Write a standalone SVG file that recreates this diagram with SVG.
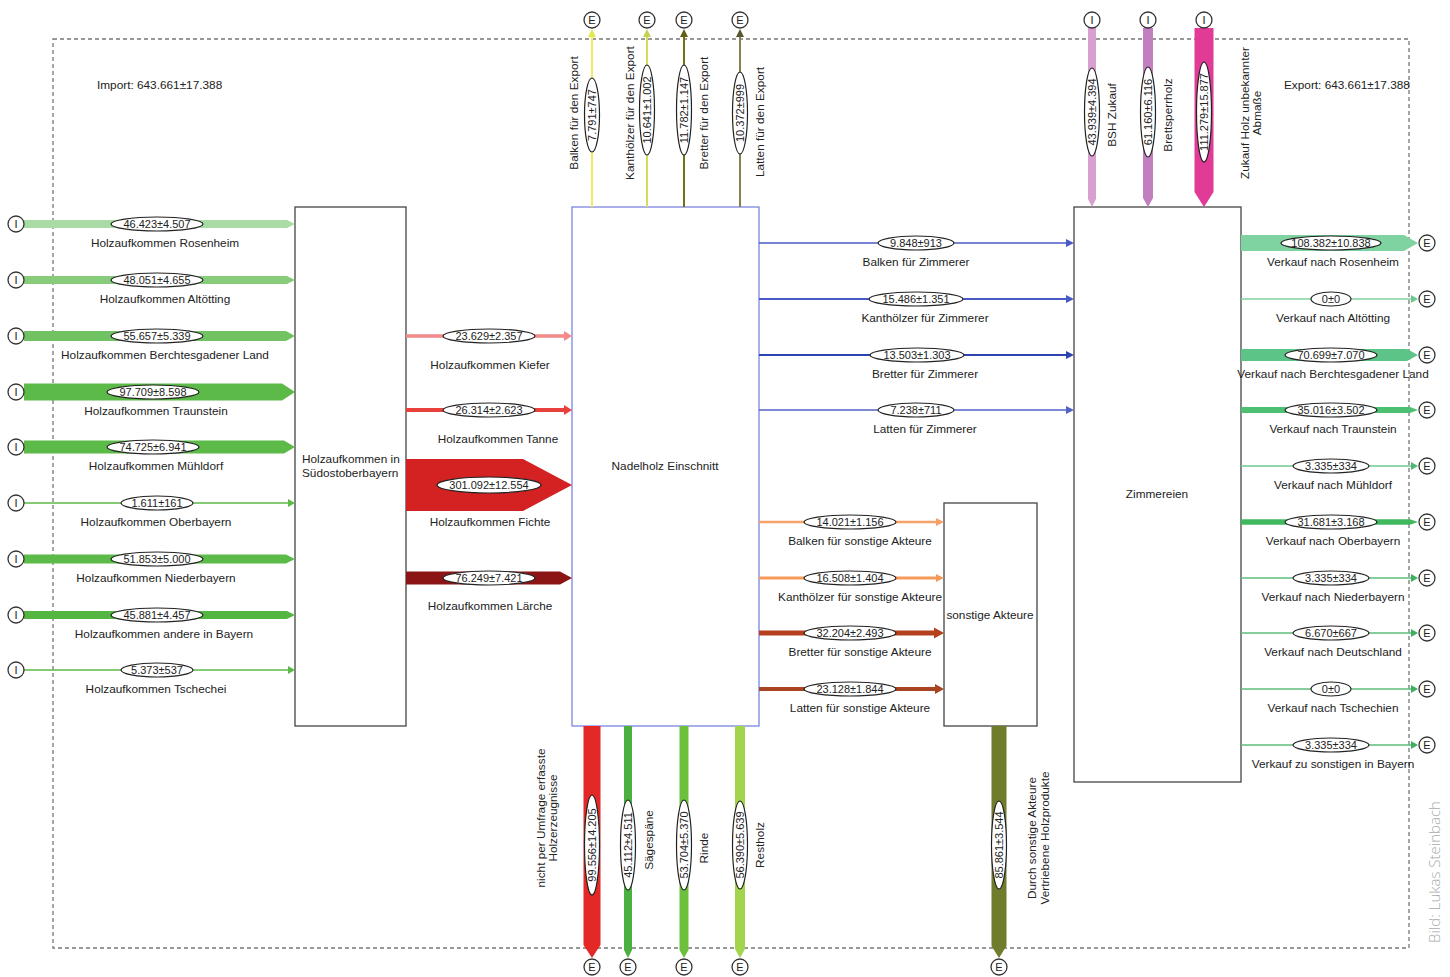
<svg xmlns="http://www.w3.org/2000/svg" width="1450" height="977" viewBox="0 0 1450 977">
<style>
text{font-family:"Liberation Sans",Arial,sans-serif;font-size:11.8px;fill:#222}
.m{text-anchor:middle}
.c{dominant-baseline:central;text-anchor:middle;font-size:11px}
.el{fill:#fff;stroke:#222;stroke-width:1.2}
.io{fill:#fff;stroke:#333;stroke-width:1.3}
.box{fill:#fff;stroke:#444;stroke-width:1.3}
.ln{fill:none}
</style>
<rect width="1450" height="977" fill="#fff"/>
<rect x="53" y="39" width="1356" height="909" fill="none" stroke="#777" stroke-width="1.3" stroke-dasharray="4 3"/>
<text x="97" y="89">Import: 643.661±17.388</text>
<text x="1284" y="89">Export: 643.661±17.388</text>

<g id="node-suedost"><rect class="box" x="295" y="207" width="111" height="519"/><text x="302" y="463">Holzaufkommen in</text><text x="302" y="477">Südostoberbayern</text></g>
<g id="node-nadelholz"><rect class="box" x="572" y="207" width="187" height="519" style="stroke:#7a86e0"/><text class="m" x="665" y="470">Nadelholz Einschnitt</text></g>
<g id="node-sonstige"><rect class="box" x="944" y="503" width="93" height="223"/><text class="m" x="990" y="619">sonstige Akteure</text></g>
<g id="node-zimmereien"><rect class="box" x="1074" y="207" width="167" height="575"/><text class="m" x="1157" y="498">Zimmereien</text></g>

<g id="connectors">
<!-- left imports -->
<polygon fill="#a8dca4" points="24,220 287,220 295,224 287,228 24,228"/>
<polygon fill="#86cc7a" points="24,276 287,276 295,280 287,284 24,284"/>
<polygon fill="#70c262" points="24,331 286,331 295,336 286,341 24,341"/>
<polygon fill="#5cba48" points="24,383.5 282,383.5 295,392 282,400.5 24,400.5"/>
<polygon fill="#5cba48" points="24,440.5 284,440.5 295,447 284,453.5 24,453.5"/>
<line x1="24" y1="503" x2="289" y2="503" stroke="#5cba48" stroke-width="1.5"/><polygon fill="#5cba48" points="288,499 295,503 288,507"/>
<polygon fill="#5cba48" points="24,554.5 286,554.5 295,559 286,563.5 24,563.5"/>
<polygon fill="#52b640" points="24,611 287,611 295,615 287,619 24,619"/>
<line x1="24" y1="670" x2="289" y2="670" stroke="#5cba48" stroke-width="1.5"/><polygon fill="#5cba48" points="288,666 295,670 288,674"/>

<g id="lbl-left">
<ellipse class="el" cx="157" cy="224" rx="46" ry="7"/><text class="c" x="157" y="224">46.423±4.507</text><text class="m" x="165" y="247">Holzaufkommen Rosenheim</text>
<ellipse class="el" cx="157" cy="280" rx="46" ry="7"/><text class="c" x="157" y="280">48.051±4.655</text><text class="m" x="165" y="303">Holzaufkommen Altötting</text>
<ellipse class="el" cx="157" cy="336" rx="46" ry="7"/><text class="c" x="157" y="336">55.657±5.339</text><text class="m" x="165" y="359">Holzaufkommen Berchtesgadener Land</text>
<ellipse class="el" cx="153" cy="392" rx="46" ry="7"/><text class="c" x="153" y="392">97.709±8.598</text><text class="m" x="156" y="415">Holzaufkommen Traunstein</text>
<ellipse class="el" cx="153" cy="447" rx="46" ry="7"/><text class="c" x="153" y="447">74.725±6.941</text><text class="m" x="156" y="470">Holzaufkommen Mühldorf</text>
<ellipse class="el" cx="157" cy="503" rx="36" ry="7"/><text class="c" x="157" y="503">1.611±161</text><text class="m" x="156" y="526">Holzaufkommen Oberbayern</text>
<ellipse class="el" cx="157" cy="559" rx="46" ry="7"/><text class="c" x="157" y="559">51.853±5.000</text><text class="m" x="156" y="582">Holzaufkommen Niederbayern</text>
<ellipse class="el" cx="157" cy="615" rx="46" ry="7"/><text class="c" x="157" y="615">45.881±4.457</text><text class="m" x="164" y="638">Holzaufkommen andere in Bayern</text>
<ellipse class="el" cx="157" cy="670" rx="36" ry="7"/><text class="c" x="157" y="670">5.373±537</text><text class="m" x="156" y="693">Holzaufkommen Tschechei</text>
</g>

<!-- middle -->
<line x1="406" y1="336" x2="565" y2="336" stroke="#f28a8a" stroke-width="3.5"/><polygon fill="#f28a8a" points="564,331 572,336 564,341"/>
<line x1="406" y1="410" x2="565" y2="410" stroke="#e8403a" stroke-width="4"/><polygon fill="#e8403a" points="564,405 572,410 564,415"/>
<polygon fill="#d42222" points="406,459 523,459 572,485 523,511 406,511"/>
<polygon fill="#8b1414" points="406,571.5 560,571.5 572,578 560,584.5 406,584.5"/>
<g id="lbl-mid">
<ellipse class="el" cx="489" cy="336" rx="46" ry="7"/><text class="c" x="489" y="336">23.629±2.357</text><text class="m" x="490" y="369">Holzaufkommen Kiefer</text>
<ellipse class="el" cx="489" cy="410" rx="46" ry="7"/><text class="c" x="489" y="410">26.314±2.623</text><text class="m" x="498" y="443">Holzaufkommen Tanne</text>
<ellipse class="el" cx="489" cy="485" rx="52" ry="8"/><text class="c" x="489" y="485">301.092±12.554</text><text class="m" x="490" y="526">Holzaufkommen Fichte</text>
<ellipse class="el" cx="489" cy="578" rx="46" ry="7"/><text class="c" x="489" y="578">76.249±7.421</text><text class="m" x="490" y="610">Holzaufkommen Lärche</text>
</g>

<!-- to Zimmereien -->
<line x1="759" y1="243" x2="1067" y2="243" stroke="#4a5ac4" stroke-width="1.5"/><polygon fill="#4a5ac4" points="1066,239 1074,243 1066,247"/>
<line x1="759" y1="299" x2="1067" y2="299" stroke="#4a5ac4" stroke-width="1.8"/><polygon fill="#4a5ac4" points="1066,295 1074,299 1066,303"/>
<line x1="759" y1="355" x2="1067" y2="355" stroke="#2c44ae" stroke-width="2.2"/><polygon fill="#2c44ae" points="1066,351 1074,355 1066,359"/>
<line x1="759" y1="410" x2="1067" y2="410" stroke="#5262c4" stroke-width="1.3"/><polygon fill="#5262c4" points="1066,406 1074,410 1066,414"/>
<g id="lbl-zim">
<ellipse class="el" cx="916" cy="243" rx="38" ry="7"/><text class="c" x="916" y="243">9.848±913</text><text class="m" x="916" y="266">Balken für Zimmerer</text>
<ellipse class="el" cx="916" cy="299" rx="47" ry="7"/><text class="c" x="916" y="299">15.486±1.351</text><text class="m" x="925" y="322">Kanthölzer für Zimmerer</text>
<ellipse class="el" cx="917" cy="355" rx="47" ry="7"/><text class="c" x="917" y="355">13.503±1.303</text><text class="m" x="925" y="378">Bretter für Zimmerer</text>
<ellipse class="el" cx="916" cy="410" rx="38" ry="7"/><text class="c" x="916" y="410">7.238±711</text><text class="m" x="925" y="433">Latten für Zimmerer</text>
</g>

<!-- to sonstige -->
<line x1="759" y1="522" x2="937" y2="522" stroke="#f6a06a" stroke-width="2.4"/><polygon fill="#f6a06a" points="936,518 944,522 936,526"/>
<line x1="759" y1="578" x2="937" y2="578" stroke="#f59a5a" stroke-width="2.8"/><polygon fill="#f59a5a" points="936,574 944,578 936,582"/>
<line x1="759" y1="633" x2="936" y2="633" stroke="#b5401e" stroke-width="5"/><polygon fill="#b5401e" points="934,627.5 944,633 934,638.5"/>
<line x1="759" y1="689" x2="936" y2="689" stroke="#a84422" stroke-width="4"/><polygon fill="#a84422" points="935,684 944,689 935,694"/>
<g id="lbl-sonst">
<ellipse class="el" cx="850" cy="522" rx="46" ry="7"/><text class="c" x="850" y="522">14.021±1.156</text><text class="m" x="860" y="545">Balken für sonstige Akteure</text>
<ellipse class="el" cx="850" cy="578" rx="46" ry="7"/><text class="c" x="850" y="578">16.508±1.404</text><text class="m" x="860" y="601">Kanthölzer für sonstige Akteure</text>
<ellipse class="el" cx="850" cy="633" rx="46" ry="7"/><text class="c" x="850" y="633">32.204±2.493</text><text class="m" x="860" y="656">Bretter für sonstige Akteure</text>
<ellipse class="el" cx="850" cy="689" rx="46" ry="7"/><text class="c" x="850" y="689">23.128±1.844</text><text class="m" x="860" y="712">Latten für sonstige Akteure</text>
</g>

<!-- outputs right -->
<polygon fill="#7fd3a0" points="1241,235 1404,235 1418,243 1404,251 1241,251"/>
<line x1="1241" y1="299" x2="1412" y2="299" stroke="#7fd3a0" stroke-width="1.5"/><polygon fill="#6cc890" points="1411,295 1418,299 1411,303"/>
<polygon fill="#5cc486" points="1241,349 1407,349 1418,355 1407,361 1241,361"/>
<polygon fill="#4cc070" points="1241,407 1410,407 1418,410 1410,413 1241,413"/>
<line x1="1241" y1="466" x2="1412" y2="466" stroke="#70c890" stroke-width="1.5"/><polygon fill="#50b870" points="1411,462 1418,466 1411,470"/>
<polygon fill="#40b860" points="1241,519.25 1410,519.25 1418,522 1410,524.75 1241,524.75"/>
<line x1="1241" y1="578" x2="1412" y2="578" stroke="#5cbc78" stroke-width="1.5"/><polygon fill="#3cb060" points="1411,574 1418,578 1411,582"/>
<line x1="1241" y1="633" x2="1412" y2="633" stroke="#5cbc78" stroke-width="1.5"/><polygon fill="#3cb060" points="1411,629 1418,633 1411,637"/>
<line x1="1241" y1="689" x2="1412" y2="689" stroke="#5cbc78" stroke-width="1.5"/><polygon fill="#3cb060" points="1411,685 1418,689 1411,693"/>
<line x1="1241" y1="745" x2="1412" y2="745" stroke="#5cbc78" stroke-width="1.5"/><polygon fill="#3cb060" points="1411,741 1418,745 1411,749"/>
<g id="lbl-out">
<ellipse class="el" cx="1331" cy="243" rx="50" ry="7"/><text class="c" x="1331" y="243">108.382±10.838</text><text class="m" x="1333" y="266">Verkauf nach Rosenheim</text>
<ellipse class="el" cx="1331" cy="299" rx="20" ry="7"/><text class="c" x="1331" y="299">0±0</text><text class="m" x="1333" y="322">Verkauf nach Altötting</text>
<ellipse class="el" cx="1331" cy="355" rx="46" ry="7"/><text class="c" x="1331" y="355">70.699±7.070</text><text class="m" x="1333" y="378">Verkauf nach Berchtesgadener Land</text>
<ellipse class="el" cx="1331" cy="410" rx="46" ry="7"/><text class="c" x="1331" y="410">35.016±3.502</text><text class="m" x="1333" y="433">Verkauf nach Traunstein</text>
<ellipse class="el" cx="1331" cy="466" rx="38" ry="7"/><text class="c" x="1331" y="466">3.335±334</text><text class="m" x="1333" y="489">Verkauf nach Mühldorf</text>
<ellipse class="el" cx="1331" cy="522" rx="46" ry="7"/><text class="c" x="1331" y="522">31.681±3.168</text><text class="m" x="1333" y="545">Verkauf nach Oberbayern</text>
<ellipse class="el" cx="1331" cy="578" rx="38" ry="7"/><text class="c" x="1331" y="578">3.335±334</text><text class="m" x="1333" y="601">Verkauf nach Niederbayern</text>
<ellipse class="el" cx="1331" cy="633" rx="38" ry="7"/><text class="c" x="1331" y="633">6.670±667</text><text class="m" x="1333" y="656">Verkauf nach Deutschland</text>
<ellipse class="el" cx="1331" cy="689" rx="20" ry="7"/><text class="c" x="1331" y="689">0±0</text><text class="m" x="1333" y="712">Verkauf nach Tschechien</text>
<ellipse class="el" cx="1331" cy="745" rx="38" ry="7"/><text class="c" x="1331" y="745">3.335±334</text><text class="m" x="1333" y="768">Verkauf zu sonstigen in Bayern</text>
</g>

<!-- top exports -->
<line x1="592" y1="207" x2="592" y2="36" stroke="#eeee66" stroke-width="2"/><polygon fill="#e6e650" points="588,37 592,29 596,37"/>
<line x1="647" y1="207" x2="647" y2="36" stroke="#d4dc60" stroke-width="2"/><polygon fill="#c8d050" points="643,37 647,29 651,37"/>
<line x1="684" y1="207" x2="684" y2="36" stroke="#707018" stroke-width="2"/><polygon fill="#606010" points="680,37 684,29 688,37"/>
<line x1="740" y1="207" x2="740" y2="36" stroke="#858250" stroke-width="2"/><polygon fill="#555530" points="736,37 740,29 744,37"/>
<g id="lbl-top-exp">
<g transform="translate(592,115) rotate(-90)"><ellipse class="el" rx="37" ry="7.5"/><text class="c">7.791±747</text></g>
<g transform="translate(647,110) rotate(-90)"><ellipse class="el" rx="45" ry="7.5"/><text class="c">10.641±1.002</text></g>
<g transform="translate(684,110) rotate(-90)"><ellipse class="el" rx="45" ry="7.5"/><text class="c">11.782±1.147</text></g>
<g transform="translate(740,113) rotate(-90)"><ellipse class="el" rx="41" ry="7.5"/><text class="c">10.372±999</text></g>
<text class="m" transform="translate(578,113) rotate(-90)">Balken für den Export</text>
<text class="m" transform="translate(634,113) rotate(-90)">Kanthölzer für den Export</text>
<text class="m" transform="translate(708,113) rotate(-90)">Bretter für den Export</text>
<text class="m" transform="translate(764,122) rotate(-90)">Latten für den Export</text>
</g>

<!-- top imports -->
<polygon fill="#d9a0cf" points="1088,28 1096,28 1096,199 1092,207 1088,199"/>
<polygon fill="#c27fc0" points="1143,28 1153,28 1153,198 1148,207 1143,198"/>
<polygon fill="#e23a97" points="1194.5,28 1213.5,28 1213.5,192 1204,207 1194.5,192"/>
<g id="lbl-top-imp">
<g transform="translate(1092,112) rotate(-90)"><ellipse class="el" rx="44" ry="7.5"/><text class="c">43.939±4.394</text></g>
<g transform="translate(1148,112) rotate(-90)"><ellipse class="el" rx="45" ry="7.5"/><text class="c">61.160±6.116</text></g>
<g transform="translate(1204,112) rotate(-90)"><ellipse class="el" rx="50" ry="7.5"/><text class="c">111.279±15.877</text></g>
<text class="m" transform="translate(1116,115) rotate(-90)">BSH Zukauf</text>
<text class="m" transform="translate(1172,115) rotate(-90)">Brettsperrholz</text>
<text class="m" transform="translate(1249,113) rotate(-90)">Zukauf Holz unbekannter</text>
<text class="m" transform="translate(1261,113) rotate(-90)">Abmaße</text>
</g>

<!-- bottom -->
<polygon fill="#e42828" points="583.5,726 600.5,726 600.5,945 592,958 583.5,945"/>
<polygon fill="#4cb040" points="624,726 632,726 632,950 628,958 624,950"/>
<polygon fill="#6cc03c" points="679.5,726 688.5,726 688.5,950 684,958 679.5,950"/>
<polygon fill="#a2d44c" points="735,726 745,726 745,949 740,958 735,949"/>
<polygon fill="#6e7c2c" points="991.5,726 1006.5,726 1006.5,946 999,958 991.5,946"/>
<g id="lbl-bottom">
<g transform="translate(592,845) rotate(-90)"><ellipse class="el" rx="50" ry="7.5"/><text class="c">99.556±14.205</text></g>
<g transform="translate(628,845) rotate(-90)"><ellipse class="el" rx="45" ry="7.5"/><text class="c">45.112±4.511</text></g>
<g transform="translate(684,845) rotate(-90)"><ellipse class="el" rx="45" ry="7.5"/><text class="c">53.704±5.370</text></g>
<g transform="translate(740,845) rotate(-90)"><ellipse class="el" rx="44" ry="7.5"/><text class="c">56.390±5.639</text></g>
<g transform="translate(999,845) rotate(-90)"><ellipse class="el" rx="44" ry="7.5"/><text class="c">85.861±3.544</text></g>
<text class="m" transform="translate(545,818) rotate(-90)">nicht per Umfrage erfasste</text>
<text class="m" transform="translate(557,818) rotate(-90)">Holzerzeugnisse</text>
<text class="m" transform="translate(653,840) rotate(-90)">Sägespäne</text>
<text class="m" transform="translate(708,848) rotate(-90)">Rinde</text>
<text class="m" transform="translate(764,845) rotate(-90)">Restholz</text>
<text class="m" transform="translate(1036,838) rotate(-90)">Durch sonstige Akteure</text>
<text class="m" transform="translate(1049,838) rotate(-90)">Vertriebene Holzprodukte</text>
</g>
</g>

<g id="io-circles">
<g id="imports-left">
<circle class="io" cx="16" cy="224" r="8"/><circle class="io" cx="16" cy="280" r="8"/><circle class="io" cx="16" cy="336" r="8"/><circle class="io" cx="16" cy="392" r="8"/><circle class="io" cx="16" cy="447" r="8"/><circle class="io" cx="16" cy="503" r="8"/><circle class="io" cx="16" cy="559" r="8"/><circle class="io" cx="16" cy="615" r="8"/><circle class="io" cx="16" cy="670" r="8"/>
<text class="c" x="16" y="224">I</text><text class="c" x="16" y="280">I</text><text class="c" x="16" y="336">I</text><text class="c" x="16" y="392">I</text><text class="c" x="16" y="447">I</text><text class="c" x="16" y="503">I</text><text class="c" x="16" y="559">I</text><text class="c" x="16" y="615">I</text><text class="c" x="16" y="670">I</text>
</g>
<g id="imports-top">
<circle class="io" cx="1092" cy="20" r="8"/><circle class="io" cx="1148" cy="20" r="8"/><circle class="io" cx="1204" cy="20" r="8"/>
<text class="c" x="1092" y="20">I</text><text class="c" x="1148" y="20">I</text><text class="c" x="1204" y="20">I</text>
</g>
<g id="exports-top">
<circle class="io" cx="592" cy="20" r="8"/><circle class="io" cx="647" cy="20" r="8"/><circle class="io" cx="684" cy="20" r="8"/><circle class="io" cx="740" cy="20" r="8"/>
<text class="c" x="592" y="20">E</text><text class="c" x="647" y="20">E</text><text class="c" x="684" y="20">E</text><text class="c" x="740" y="20">E</text>
</g>
<g id="exports-bottom">
<circle class="io" cx="592" cy="967" r="8"/><circle class="io" cx="628" cy="967" r="8"/><circle class="io" cx="684" cy="967" r="8"/><circle class="io" cx="740" cy="967" r="8"/><circle class="io" cx="999" cy="967" r="8"/>
<text class="c" x="592" y="967">E</text><text class="c" x="628" y="967">E</text><text class="c" x="684" y="967">E</text><text class="c" x="740" y="967">E</text><text class="c" x="999" y="967">E</text>
</g>
<g id="exports-right">
<circle class="io" cx="1427" cy="243" r="8"/><circle class="io" cx="1427" cy="299" r="8"/><circle class="io" cx="1427" cy="355" r="8"/><circle class="io" cx="1427" cy="410" r="8"/><circle class="io" cx="1427" cy="466" r="8"/><circle class="io" cx="1427" cy="522" r="8"/><circle class="io" cx="1427" cy="578" r="8"/><circle class="io" cx="1427" cy="633" r="8"/><circle class="io" cx="1427" cy="689" r="8"/><circle class="io" cx="1427" cy="745" r="8"/>
<text class="c" x="1427" y="243">E</text><text class="c" x="1427" y="299">E</text><text class="c" x="1427" y="355">E</text><text class="c" x="1427" y="410">E</text><text class="c" x="1427" y="466">E</text><text class="c" x="1427" y="522">E</text><text class="c" x="1427" y="578">E</text><text class="c" x="1427" y="633">E</text><text class="c" x="1427" y="689">E</text><text class="c" x="1427" y="745">E</text>
</g>
</g>

<text class="m" transform="translate(1440,872) rotate(-90)" style="font-family:'Open Sans','Liberation Sans',sans-serif;font-weight:300;font-size:15px;fill:#aaa">Bild: Lukas Steinbach</text>
</svg>
